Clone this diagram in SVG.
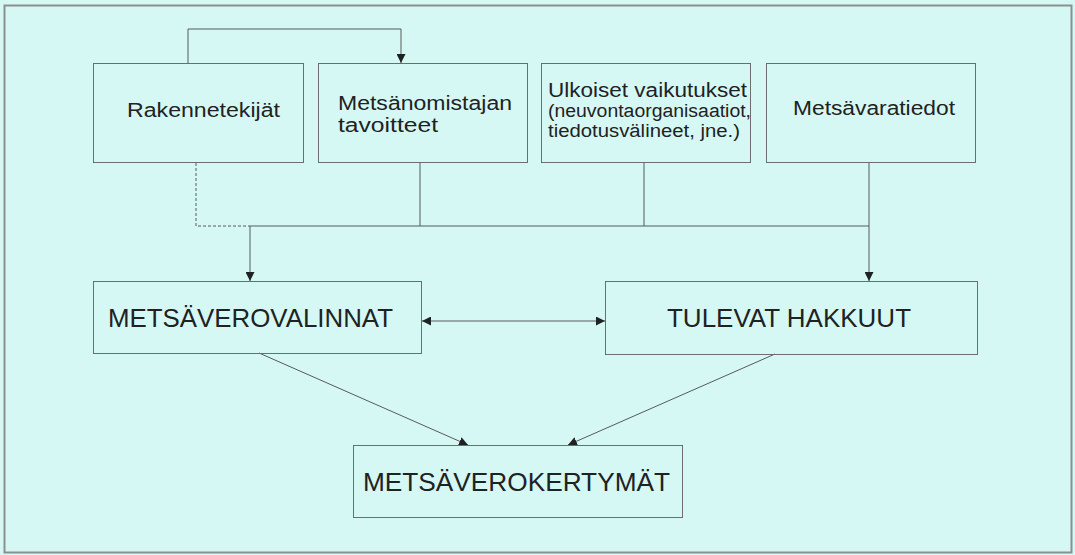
<svg xmlns="http://www.w3.org/2000/svg" width="1075" height="555" viewBox="0 0 1075 555">
<style>
.box{fill:none;stroke:#6a6e6e;stroke-width:1}
.t{font-family:"Liberation Sans",Arial,sans-serif;fill:#1e2222}
.s{font-size:19.5px}
.m{font-size:17.6px}
.b{font-size:26px}
.c{fill:none;stroke:#555a5a;stroke-width:1}
.d{stroke-dasharray:3 2}
</style>
<defs>
<marker id="ah" viewBox="0 0 10 10" refX="10" refY="5" markerWidth="9" markerHeight="9" markerUnits="userSpaceOnUse" orient="auto-start-reverse">
<path d="M0,0 L10,5 L0,10 Z" fill="#1e2222"/>
</marker>
</defs>
<rect x="0" y="0" width="1075" height="555" fill="#d6f8f5"/>
<rect x="4.5" y="5.5" width="1067" height="547" fill="none" stroke="#8a9090" stroke-width="2"/>
<g id="connectors">
<path class="c" d="M188,63 V29 H401 V63" marker-end="url(#ah)"/>
<path class="c d" d="M196,163 V226 H250"/>
<path class="c" d="M250,226 H869"/>
<path class="c" d="M420,163 V226"/>
<path class="c" d="M644,163 V226"/>
<path class="c" d="M869,163 V281" marker-end="url(#ah)"/>
<path class="c" d="M250,226 V281" marker-end="url(#ah)"/>
<path class="c" d="M422,321 H605" marker-start="url(#ah)" marker-end="url(#ah)"/>
<path class="c" d="M259,353 L468,445" marker-end="url(#ah)"/>
<path class="c" d="M775,354 L568,445" marker-end="url(#ah)"/>
</g>
<g id="rakennetekijat">
<rect class="box" x="93.5" y="63.5" width="210" height="99"/>
<text class="t s" x="127" y="117" textLength="153" lengthAdjust="spacingAndGlyphs">Rakennetekijät</text>
</g>
<g id="metsanomistajan-tavoitteet">
<rect class="box" x="318.5" y="63.5" width="209" height="99"/>
<text class="t s" x="338" y="110" textLength="174" lengthAdjust="spacingAndGlyphs">Metsänomistajan</text>
<text class="t s" x="338" y="132" textLength="100" lengthAdjust="spacingAndGlyphs">tavoitteet</text>
</g>
<g id="ulkoiset-vaikutukset">
<rect class="box" x="541.5" y="63.5" width="209" height="99"/>
<text class="t s" x="548" y="96.5" textLength="199" lengthAdjust="spacingAndGlyphs">Ulkoiset vaikutukset</text>
<text class="t m" x="548" y="117" textLength="203" lengthAdjust="spacingAndGlyphs">(neuvontaorganisaatiot,</text>
<text class="t m" x="548" y="137" textLength="192" lengthAdjust="spacingAndGlyphs">tiedotusvälineet, jne.)</text>
</g>
<g id="metsavaratiedot">
<rect class="box" x="766.5" y="63.5" width="209" height="99"/>
<text class="t s" x="793" y="115" textLength="162" lengthAdjust="spacingAndGlyphs">Metsävaratiedot</text>
</g>
<g id="metsaverovalinnat">
<rect class="box" x="93.5" y="281.5" width="328" height="72"/>
<text class="t b" x="108" y="327" textLength="285" lengthAdjust="spacingAndGlyphs">METSÄVEROVALINNAT</text>
</g>
<g id="tulevat-hakkuut">
<rect class="box" x="605.5" y="281.5" width="372" height="73"/>
<text class="t b" x="667" y="327" textLength="244" lengthAdjust="spacingAndGlyphs">TULEVAT HAKKUUT</text>
</g>
<g id="metsaverokertymat">
<rect class="box" x="353.5" y="445.5" width="329" height="72"/>
<text class="t b" x="363" y="491" textLength="307" lengthAdjust="spacingAndGlyphs">METSÄVEROKERTYMÄT</text>
</g>
</svg>
